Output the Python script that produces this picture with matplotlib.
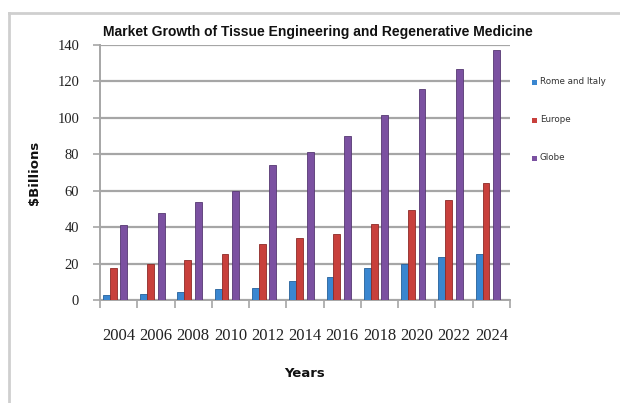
import matplotlib
matplotlib.use("Agg")
import matplotlib.pyplot as plt
from matplotlib.lines import Line2D
import numpy as np

years = ["2004", "2006", "2008", "2010", "2012", "2014", "2016", "2018", "2020", "2022", "2024"]
rome_italy = [2.5, 3.3, 4.5, 5.8, 6.7, 10.5, 12.5, 17.5, 20, 23.5, 25.5]
europe = [17.8, 20, 22, 25, 31, 33.8, 36, 42, 49.5, 55, 64.5]
globe = [41, 47.7, 53.7, 60, 74, 81, 90, 101.5, 116, 127, 137]

series_names = ["Rome and Italy", "Europe", "Globe"]
colors = ["#3A86D0", "#C8403C", "#7B51A1"]
edges = ["#25609a", "#8e2a27", "#563872"]

W, H = 620, 403
fig = plt.figure(figsize=(W / 100, H / 100), dpi=100)
ax = fig.add_axes([100 / W, 1 - 300 / H, 410 / W, 255 / H])

x = np.arange(len(years))
bw = 0.185
offsets = [-0.33, -0.145, 0.14]
for vals, off, c, ec, name in zip([rome_italy, europe, globe], offsets, colors, edges, series_names):
    ax.bar(x + off, vals, width=bw, color=c, edgecolor=ec, linewidth=0.6, label=name, zorder=3)

ax.set_xlim(-0.5, len(years) - 0.5)
ax.set_ylim(0, 140)
ax.set_yticks(np.arange(0, 141, 20))
ax.yaxis.grid(True, color="#a6a6a6", linewidth=1.6, zorder=0)
ax.set_axisbelow(True)

for s in ["top", "right"]:
    ax.spines[s].set_visible(False)
for s in ["left", "bottom"]:
    ax.spines[s].set_color("#a6a6a6")
    ax.spines[s].set_linewidth(1.4)

ax.set_xticks(x)
ax.set_xticklabels(years, family="Liberation Serif", fontsize=12)
ax.set_xticks(np.arange(-0.5, len(years), 1.0), minor=True)
ax.tick_params(axis="x", which="major", length=0, pad=20, colors="#222222")
ax.tick_params(axis="x", which="minor", length=6, width=1.2, color="#a6a6a6", direction="out")
ax.tick_params(axis="y", length=5, width=1.2, color="#a6a6a6", pad=10, labelsize=10.5)
for lab in ax.get_yticklabels():
    lab.set_family("Liberation Serif")
    lab.set_color("#222222")

ax.set_ylabel("$Billions", fontsize=9.5, fontweight="bold", labelpad=12, color="#111111")
ax.set_xlabel("Years", fontsize=9.5, fontweight="bold", labelpad=17, color="#111111")

fig.text(318 / W, 1 - 32 / H, "Market Growth of Tissue Engineering and Regenerative Medicine",
         ha="center", va="center", fontsize=10, fontweight="bold",
         family="Liberation Sans", color="#111111")

# legend
leg_y = [82, 120, 158]
for name, c, yy in zip(series_names, colors, leg_y):
    fig.patches.append(plt.Rectangle((532 / W, 1 - (yy + 2.5) / H), 5 / W, 5 / H,
                                     transform=fig.transFigure, facecolor=c, edgecolor="none"))
    fig.text(540 / W, 1 - yy / H, name, ha="left", va="center", fontsize=6.3, color="#333333")

# frame border
fig.add_artist(Line2D([9 / W, 1.0], [1 - 13 / H, 1 - 13 / H], color="#cfcfcf", linewidth=2))
fig.add_artist(Line2D([9 / W, 9 / W], [0, 1 - 13 / H], color="#cfcfcf", linewidth=2))

fig.savefig("out.png", dpi=100, facecolor="white")
